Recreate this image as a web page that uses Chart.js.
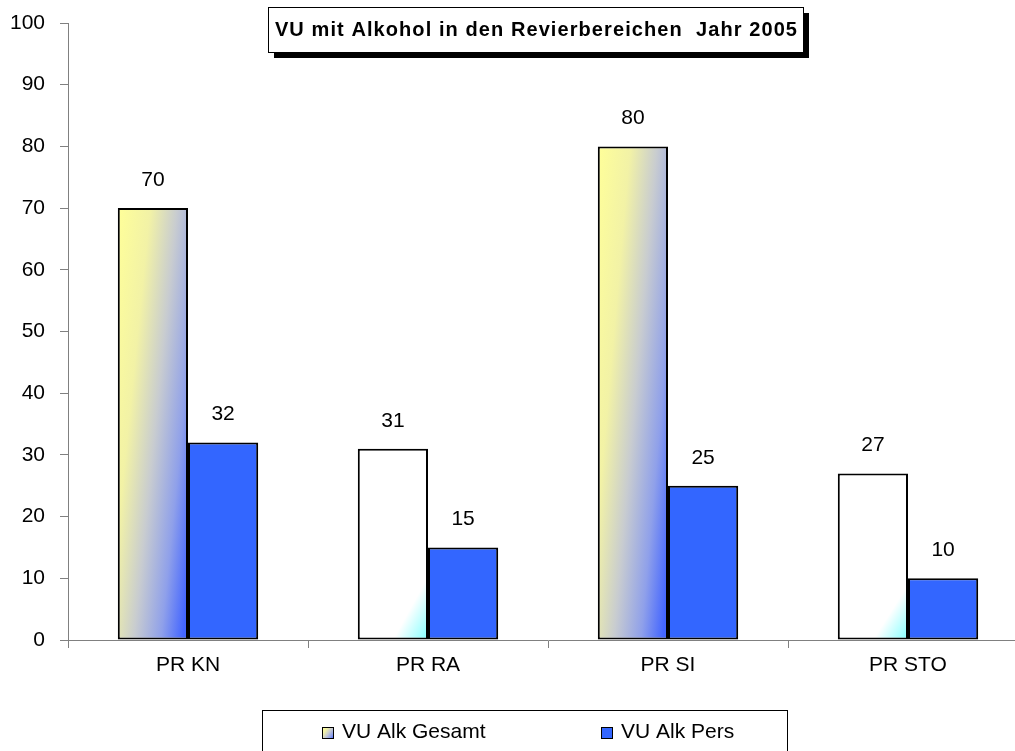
<!DOCTYPE html>
<html lang="de">
<head>
<meta charset="utf-8">
<title>VU mit Alkohol in den Revierbereichen Jahr 2005</title>
<script src="https://cdn.jsdelivr.net/npm/chart.js@4.4.0/dist/chart.umd.min.js"></script>
<style>
    html, body { margin: 0; padding: 0; background: #fff; overflow: hidden; }
    #wrap { position: relative; width: 1045px; height: 751px; }
</style>
</head>
<body>
<div id="wrap"><canvas id="chart"></canvas></div>
<script>
// Daten
const categories = ['PR KN', 'PR RA', 'PR SI', 'PR STO'];
const seriesNames = ['VU Alk Gesamt', 'VU Alk Pers'];
const gesamtValues = [70, 31, 80, 27];
const persValues = [32, 15, 25, 10];
const yMin = 0, yMax = 100, yStep = 10;
const chartTitle = 'VU mit Alkohol in den Revierbereichen  Jahr 2005';

// Darstellung
const FONT = "'Liberation Sans', Arial, sans-serif";
const AXIS_GRAY = '#808080';
const PERS_BLUE = '#3366ff';
const gesamtShading = ['gold', 'plain', 'gold', 'plain'];

// lineare Verlaufsfläche: t = a*x/w + b*y/h innerhalb des Rechtecks
function shadedFill(ctx, left, top, right, bottom, a, b, stops) {
    const w = right - left, h = bottom - top;
    const D = 1 / (a * a / (w * w) + b * b / (h * h));
    const g = ctx.createLinearGradient(left, top, left + a * D / w, top + b * D / h);
    stops.forEach(([t, c]) => g.addColorStop(t, c));
    return g;
}
const goldStops = [[0, '#ffff99'], [0.3, '#f2f2a6'], [0.55, '#c8ccd0'], [0.8, '#8fa0ea'], [1, '#4466ff']];
const plainStops = [[0, '#ffffff'], [0.8, '#ffffff'], [1, '#80ffff']];

function gesamtFill(context) {
    const chart = context.chart;
    if (!chart.chartArea || context.dataIndex === undefined) return '#ffffff';
    const xs = chart.scales.x, ys = chart.scales.y;
    const i = context.dataIndex;
    const catW = xs.width / categories.length;
    const barW = catW * chart.options.datasets.bar.categoryPercentage / 2;
    const center = xs.getPixelForValue(i);
    const top = ys.getPixelForValue(gesamtValues[i]);
    const bottom = ys.getPixelForValue(0);
    if (gesamtShading[i] === 'gold') {
        return shadedFill(chart.ctx, center - barW, top, center, bottom, 0.65, 0.4, goldStops);
    }
    return shadedFill(chart.ctx, center - barW, top, center, bottom, 0.4, 0.6, plainStops);
}

// Titel mit Rahmen und Schatten
const titleBoxPlugin = {
    id: 'titleBox',
    afterDraw(chart) {
        const ctx = chart.ctx;
        const box = { x: 268, y: 7, w: 535, h: 45 };
        ctx.save();
        ctx.fillStyle = '#000';
        ctx.fillRect(box.x + 6, box.y + 6, box.w, box.h);
        ctx.fillStyle = '#fff';
        ctx.fillRect(box.x, box.y, box.w, box.h);
        ctx.strokeStyle = '#000';
        ctx.lineWidth = 1;
        ctx.strokeRect(box.x + 0.5, box.y + 0.5, box.w, box.h);
        ctx.font = 'bold 20px ' + FONT;
        const plainW = ctx.measureText(chartTitle).width;
        ctx.letterSpacing = Math.max(0, (box.w - 12 - plainW) / chartTitle.length).toFixed(2) + 'px';
        ctx.fillStyle = '#000';
        ctx.textAlign = 'center';
        ctx.textBaseline = 'middle';
        ctx.fillText(chartTitle, box.x + box.w / 2 + 1, box.y + box.h / 2 + 1);
        ctx.restore();
    }
};

// Werte über den Balken
const valueLabelPlugin = {
    id: 'valueLabels',
    afterDatasetsDraw(chart) {
        const ctx = chart.ctx;
        ctx.save();
        ctx.font = '21px ' + FONT;
        ctx.fillStyle = '#000';
        ctx.textAlign = 'center';
        ctx.textBaseline = 'middle';
        chart.data.datasets.forEach((ds, di) => {
            chart.getDatasetMeta(di).data.forEach((bar, i) => {
                ctx.fillText(String(ds.data[i]), bar.x, bar.y - 28);
            });
        });
        ctx.restore();
    }
};

// Legende im Kasten unten
const legendBoxPlugin = {
    id: 'legendBox',
    afterDraw(chart) {
        const ctx = chart.ctx;
        ctx.save();
        ctx.strokeStyle = '#000';
        ctx.lineWidth = 1;
        ctx.strokeRect(262.5, 710.5, 525, 60);
        const items = [
            { x: 322, text: seriesNames[0], fill: shadedFill(ctx, 322, 727, 334, 739, 0.6, 0.45, goldStops) },
            { x: 601, text: seriesNames[1], fill: PERS_BLUE }
        ];
        ctx.font = '21px ' + FONT;
        ctx.textBaseline = 'middle';
        ctx.textAlign = 'left';
        items.forEach(it => {
            ctx.fillStyle = it.fill;
            ctx.fillRect(it.x, 727, 12, 12);
            ctx.strokeStyle = '#000';
            ctx.strokeRect(it.x + 0.5, 727.5, 11, 11);
            ctx.fillStyle = '#000';
            ctx.fillText(it.text, it.x + 20, 732);
        });
        ctx.restore();
    }
};

new Chart(document.getElementById('chart'), {
    type: 'bar',
    data: {
        labels: categories,
        datasets: [
            { label: seriesNames[0], data: gesamtValues, backgroundColor: gesamtFill },
            { label: seriesNames[1], data: persValues, backgroundColor: PERS_BLUE }
        ]
    },
    options: {
        responsive: true,
        maintainAspectRatio: false,
        animation: false,
        devicePixelRatio: 1,
        datasets: {
            bar: {
                categoryPercentage: 0.585,
                barPercentage: 1,
                borderColor: '#000',
                borderWidth: 2,
                borderSkipped: false
            }
        },
        layout: { padding: { top: 23, right: 17, bottom: 71, left: 0 } },
        plugins: {
            legend: { display: false },
            title: { display: false },
            tooltip: { enabled: false }
        },
        scales: {
            x: {
                grid: { drawOnChartArea: false, tickLength: 8, color: AXIS_GRAY, offset: true },
                border: { color: AXIS_GRAY, width: 1 },
                ticks: { color: '#000', font: { family: FONT, size: 21 }, padding: 5, maxRotation: 0 },
                afterFit(scale) { scale.height = 40; }
            },
            y: {
                min: yMin,
                max: yMax,
                ticks: { stepSize: yStep, color: '#000', font: { family: FONT, size: 21 }, padding: 15 },
                grid: { drawOnChartArea: false, tickLength: 8, color: AXIS_GRAY },
                border: { color: AXIS_GRAY, width: 1 },
                afterFit(scale) {
                    scale.width = 68;
                    scale.paddingTop = 0;
                    scale.paddingBottom = 0;
                }
            }
        }
    },
    plugins: [valueLabelPlugin, titleBoxPlugin, legendBoxPlugin]
});
</script>
</body>
</html>
